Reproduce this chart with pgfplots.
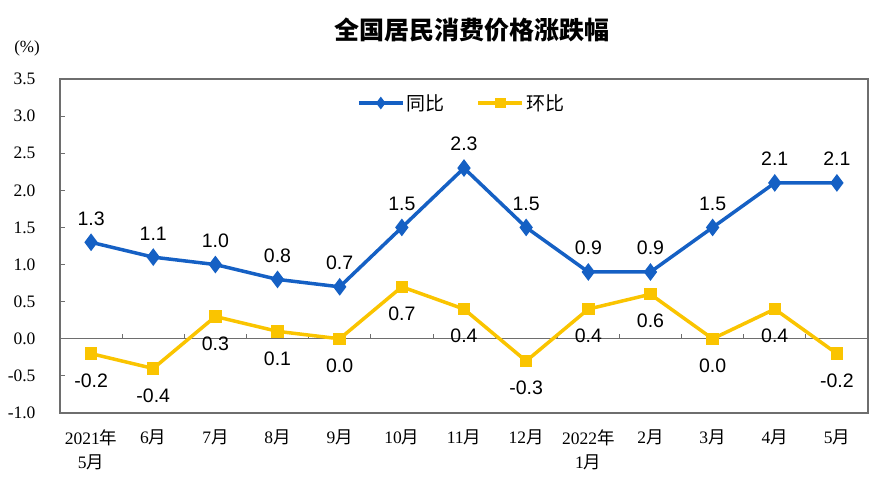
\documentclass[border=0pt]{standalone}
\usepackage{fontspec}
\setmainfont{Liberation Serif}
\newfontfamily\arial{Liberation Sans}
\newfontfamily\cjk{Noto Sans CJK SC}
\usepackage{pgfplots}
\pgfplotsset{compat=1.18}
\definecolor{tb}{RGB}{21,96,196}
\definecolor{hb}{RGB}{250,196,0}
\definecolor{ax}{RGB}{110,110,110}

\begin{document}
\begin{tikzpicture}
\useasboundingbox (-60pt,-64pt) rectangle (820pt,413pt);
\begin{axis}[
    scale only axis,
    width=808pt, height=334pt,
    xmin=-0.5, xmax=12.5, ymin=-1, ymax=3.5,
    axis line style={ax, line width=1.2pt},
    xtick={0,...,12},
    xticklabels={{2021{\cjk 年}\\5{\cjk 月}},6{\cjk 月},7{\cjk 月},8{\cjk 月},9{\cjk 月},10{\cjk 月},11{\cjk 月},12{\cjk 月},{2022{\cjk 年}\\1{\cjk 月}},2{\cjk 月},3{\cjk 月},4{\cjk 月},5{\cjk 月}},
    major x tick style={draw=none},
    xticklabel style={align=center, font=\fontsize{17.5}{24}\selectfont, yshift=-13pt},
    ytick={-1,-0.5,0,0.5,1,1.5,2,2.5,3,3.5},
    yticklabel style={/pgf/number format/fixed, /pgf/number format/precision=1, /pgf/number format/fixed zerofill, font=\fontsize{17.5}{20}\selectfont, xshift=-21pt},
    /pgf/number format/assume math mode=true,
    tick pos=left, tick align=inside,
    major tick length=5pt,
    major y tick style={ax, line width=0.8pt},
    legend style={at={(0.497,0.928)}, anchor=center, draw=none, fill=none,
        legend columns=2, font=\cjk\fontsize{19}{19}\selectfont,
        /tikz/every even column/.append style={column sep=30pt}},
    legend image code/.code={\draw[mark repeat=2, mark phase=2, mark size=3.5pt] plot coordinates {(0pt,0pt) (22pt,0pt) (44pt,0pt)};},
]
\draw[ax, line width=1.2pt] (axis cs:-0.5,0) -- (axis cs:12.5,0);
\pgfplotsinvokeforeach{0.5,1.5,...,11.5}{\draw[ax, line width=0.8pt] (axis cs:#1,0) -- (axis cs:#1,0.067);}

\addplot[tb, line width=3.5pt, mark=diamond*, mark size=6pt,
    nodes near coords={\pgfmathprintnumber[fixed,fixed zerofill,precision=1]{\pgfplotspointmeta}},
    nodes near coords align={above},
    every node near coord/.append style={text=black, font=\arial\fontsize{19.5}{20}\selectfont, yshift=12pt}]
coordinates {
    (0,1.3) (1,1.1) (2,1.0) (3,0.8) (4,0.7) (5,1.5) (6,2.3) (7,1.5) (8,0.9) (9,0.9) (10,1.5) (11,2.1) (12,2.1)
};
\addlegendentry{同比}

\addplot[hb, line width=3.5pt, mark=square*, mark size=4.5pt,
    nodes near coords={\pgfmathprintnumber[fixed,fixed zerofill,precision=1]{\pgfplotspointmeta}},
    nodes near coords align={below},
    every node near coord/.append style={text=black, font=\arial\fontsize{19.5}{20}\selectfont, yshift=-15pt}]
coordinates {
    (0,-0.2) (1,-0.4) (2,0.3) (3,0.1) (4,0.0) (5,0.7) (6,0.4) (7,-0.3) (8,0.4) (9,0.6) (10,0.0) (11,0.4) (12,-0.2)
};
\addlegendentry{环比}
\end{axis}
\node[font=\cjk\bfseries\fontsize{25}{25}\selectfont] at (412pt,383pt) {全国居民消费价格涨跌幅};
\node[font=\fontsize{17}{17}\selectfont] at (-33pt,365pt) {(\%)};
\end{tikzpicture}
\end{document}
